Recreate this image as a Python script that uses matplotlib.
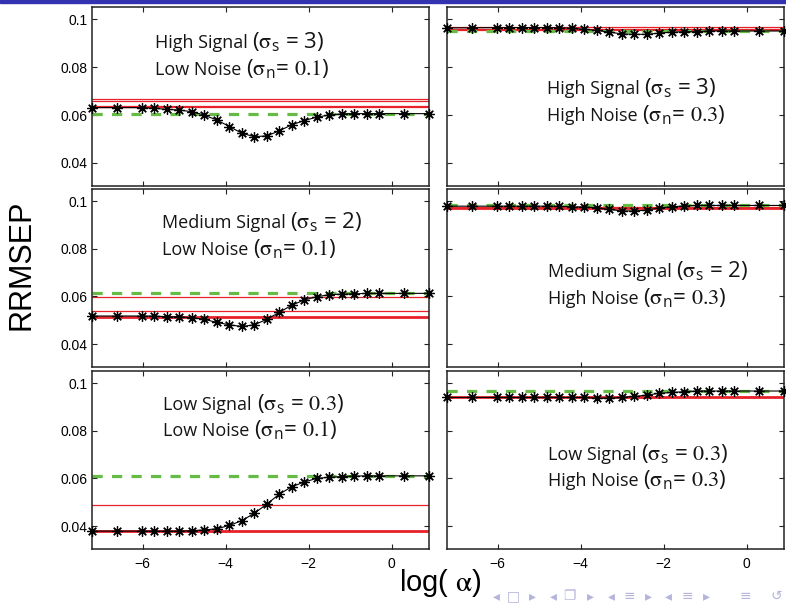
import matplotlib
matplotlib.use("Agg")
import matplotlib.pyplot as plt
from matplotlib.patches import Rectangle

plt.rcParams['mathtext.fontset'] = 'stix'

# ---------------- data ----------------
log_alpha = [-7.22, -6.62, -6.02, -5.72, -5.42, -5.12, -4.82, -4.52, -4.21, -3.91,
             -3.61, -3.31, -3.01, -2.71, -2.41, -2.11, -1.81, -1.51, -1.20, -0.90,
             -0.60, -0.30, 0.30, 0.90]

rrmsep_hs_ln = [0.0631, 0.0631, 0.0631, 0.0628, 0.0624, 0.0621, 0.0614, 0.0600, 0.0579, 0.0552,
                0.0524, 0.0510, 0.0513, 0.0534, 0.0559, 0.0577, 0.0591, 0.0600, 0.0605, 0.0606,
                0.0606, 0.0606, 0.0606, 0.0606]
rrmsep_hs_hn = [0.0964, 0.0964, 0.0965, 0.0965, 0.0965, 0.0965, 0.0965, 0.0964, 0.0962, 0.0958,
                0.0953, 0.0946, 0.0939, 0.0937, 0.0937, 0.0942, 0.0946, 0.0948, 0.0948, 0.0951,
                0.0951, 0.0951, 0.0951, 0.0951]
rrmsep_ms_ln = [0.0518, 0.0518, 0.0518, 0.0518, 0.0515, 0.0515, 0.0511, 0.0504, 0.0491, 0.0481,
                0.0474, 0.0481, 0.0504, 0.0533, 0.0563, 0.0585, 0.0599, 0.0607, 0.0610, 0.0611,
                0.0613, 0.0613, 0.0613, 0.0613]
rrmsep_ms_hn = [0.0979, 0.0979, 0.0979, 0.0979, 0.0979, 0.0979, 0.0979, 0.0979, 0.0976, 0.0976,
                0.0972, 0.0965, 0.0959, 0.0959, 0.0962, 0.0972, 0.0976, 0.0980, 0.0982, 0.0982,
                0.0982, 0.0982, 0.0982, 0.0982]
rrmsep_ls_ln = [0.0379, 0.0379, 0.0379, 0.0379, 0.0379, 0.0379, 0.0381, 0.0384, 0.0389, 0.0403,
                0.0423, 0.0454, 0.0492, 0.0534, 0.0565, 0.0585, 0.0600, 0.0605, 0.0608, 0.0610,
                0.0611, 0.0611, 0.0611, 0.0611]
rrmsep_ls_hn = [0.0940, 0.0940, 0.0940, 0.0940, 0.0940, 0.0940, 0.0940, 0.0940, 0.0940, 0.0940,
                0.0937, 0.0937, 0.0940, 0.0944, 0.0950, 0.0957, 0.0961, 0.0964, 0.0967, 0.0967,
                0.0967, 0.0967, 0.0967, 0.0967]

# reference levels: green dashed, thick red, thin red
green_level = [[0.0604, 0.0951], [0.0613, 0.0982], [0.0611, 0.0967]]
red_thick = [[None, None], [0.0515, 0.0972], [0.0379, 0.0940]]
red_thin = [[[0.0667, 0.0660, 0.0638, 0.0632], [0.0966, 0.0961, 0.0956]],
            [[0.0599, 0.0540], [0.0977]],
            [[0.0487], []]]

series = [[rrmsep_hs_ln, rrmsep_hs_hn],
          [rrmsep_ms_ln, rrmsep_ms_hn],
          [rrmsep_ls_ln, rrmsep_ls_hn]]

signal_names = ["High Signal ", "Medium Signal ", "Low Signal "]
signal_values = [r"($\mathrm{\sigma}_{\mathregular{s}}$ = 3)",
                 r"($\mathrm{\sigma}_{\mathregular{s}}$ = 2)",
                 r"($\mathrm{\sigma}_{\mathregular{s}}$ = $\mathrm{0.3}$)"]
noise_names = ["Low Noise ", "High Noise "]
noise_values = [r"($\mathrm{\sigma}_{\mathregular{n}}$= $\mathrm{0.1}$)",
                r"($\mathrm{\sigma}_{\mathregular{n}}$= $\mathrm{0.3}$)"]

x_ticks = [-6, -4, -2, 0]
x_ticklabels = ["\u22126", "\u22124", "\u22122", "0"]
y_ticks = [0.04, 0.06, 0.08, 0.1]
y_ticklabels = ["0.04", "0.06", "0.08", "0.1"]

# ---------------- layout ----------------
W, H = 786, 605
fig = plt.figure(figsize=(W / 100, H / 100), dpi=100)

col_x = [92, 447]
col_w = 337
row_top = [7, 189, 371]
row_h = [179, 178, 178]

text_pos = [[(0.187, 0.769, 0.620), (0.296, 0.512, 0.365)],
            [(0.207, 0.779, 0.629), (0.300, 0.504, 0.354)],
            [(0.212, 0.781, 0.635), (0.300, 0.500, 0.354)]]

green_c = '#66bb44'
red_c = '#e8202a'
tick_font = 'Liberation Sans'
panel_font = 'Open Sans'
txt_c = '#151515'


def two_part_label(ax, x, y, name, value):
    t1 = ax.text(x, y, name, transform=ax.transAxes, fontsize=13,
                 fontfamily=panel_font, va='baseline', ha='left', color=txt_c)
    ax.annotate(value, xy=(1.0, y), xycoords=(t1, ax.transAxes),
                fontsize=16, fontfamily=panel_font, va='baseline', ha='left',
                color=txt_c)


for r in range(3):
    for c in range(2):
        left = col_x[c] / W
        bottom = (H - row_top[r] - row_h[r]) / H
        ax = fig.add_axes([left, bottom, col_w / W, row_h[r] / H])
        # red levels
        for v in red_thin[r][c]:
            ax.axhline(v, color=red_c, lw=0.9, zorder=1)
        if red_thick[r][c] is not None:
            ax.axhline(red_thick[r][c], color=red_c, lw=2.0, zorder=1.2)
        # green dashed
        ax.axhline(green_level[r][c], color=green_c, lw=2.3,
                   linestyle=(0, (3.2, 2.9)), zorder=2)
        # data
        ax.plot(log_alpha, series[r][c], color='black', lw=0.8,
                marker=(8, 2, 0), markersize=7.5, markeredgewidth=0.9,
                zorder=3, clip_on=False)
        ax.set_xlim(-7.225, 0.903)
        ax.set_ylim(0.0304, 0.1051)
        ax.set_xticks(x_ticks)
        ax.set_yticks(y_ticks)
        if r == 2:
            ax.set_xticklabels(x_ticklabels, fontfamily=tick_font, fontsize=10)
        else:
            ax.set_xticklabels([])
        if c == 0:
            ax.set_yticklabels(y_ticklabels, fontfamily=tick_font, fontsize=10)
        else:
            ax.set_yticklabels([])
        ax.tick_params(direction='in', length=3.5, width=0.8, top=True, right=True,
                       color='#222222')
        ax.tick_params(axis='x', pad=6)
        ax.tick_params(axis='y', pad=3)
        for s in ax.spines.values():
            s.set_linewidth(1.1)
            s.set_color('#222222')
        tx, ty1, ty2 = text_pos[r][c]
        two_part_label(ax, tx, ty1, signal_names[r], signal_values[r])
        two_part_label(ax, tx, ty2, noise_names[c], noise_values[c])

# axis labels
fig.text(22 / W, 1 - 265 / H, "RRMSEP", rotation=90, ha='center', va='center',
         fontfamily='Liberation Sans', fontsize=22)
fig.text(440 / W, 1 - 583 / H, r"log( $\mathrm{\alpha}$)", ha='center', va='center',
         fontfamily='Liberation Sans', fontsize=21)

# beamer header bar
fig.patches.append(Rectangle((0, 1 - 3 / H), 1, 3 / H, transform=fig.transFigure,
                             color='#3333b2', zorder=0))

# beamer navigation symbols
nav = [("\u25c2", 496), ("\u25a1", 513), ("\u25b8", 532), ("\u25c2", 553), ("\u2750", 569),
       ("\u25b8", 590), ("\u25c2", 611), ("\u2261", 629), ("\u25b8", 648), ("\u25c2", 668),
       ("\u2261", 687), ("\u25b8", 706), ("\u2261", 745), ("\u21ba", 776)]
for ch, px in nav:
    fig.text(px / W, 1 - 596 / H, ch, ha='center', va='center', fontsize=10,
             color='#b4b4dc', fontfamily=['DejaVu Sans', 'Noto Sans CJK SC'])

fig.savefig("out.png", dpi=100)
